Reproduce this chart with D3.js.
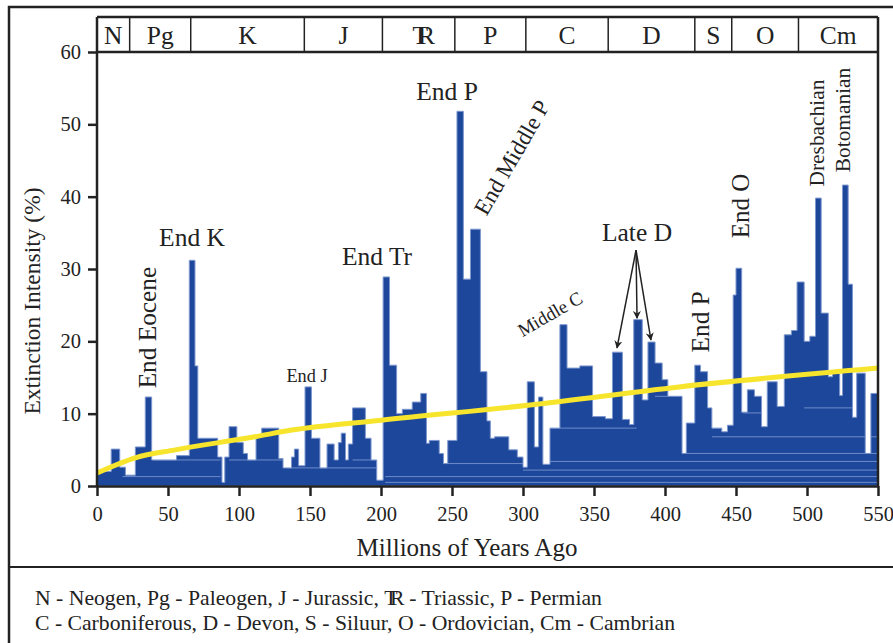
<!DOCTYPE html>
<html>
<head>
<meta charset="utf-8">
<script src="https://cdn.jsdelivr.net/npm/d3@7"></script>
<style>
  body { margin: 0; background: #fff; }
</style>
</head>
<body>
<div id="chart"></div>
<script>
// extinction intensity profile: value holds from this age until the next one
const stepAge = [0, 10, 16, 20, 27, 34, 38.5, 56, 65, 69, 71, 85, 88, 90, 93, 98.5, 103, 106, 112, 116,
  128, 131, 137, 139, 142, 146.5, 151, 157, 162, 167, 170, 172, 175, 177, 180, 189, 193, 197, 201.5, 206,
  211, 215, 222, 228, 232, 234, 241, 244, 247, 253.5, 258, 263, 270, 274.6, 277, 280, 290, 296, 300, 303,
  308, 311, 314, 319, 326, 331, 340, 349, 358, 363, 370, 375, 378, 384, 388, 393, 398, 402, 412, 415,
  421, 425, 430, 433, 440, 444, 448, 450, 454, 458, 463, 468, 472, 479, 484, 489, 493, 498, 502, 506,
  510, 515, 518, 523, 525, 529, 532, 535, 541, 545, 550];
const stepValue = [2.0, 5.1, 2.6, 1.5, 5.4, 12.3, 3.6, 4.2, 31.2, 16.6, 6.6, 4.0, 0.5, 4.0, 8.2, 6.0, 4.5, 3.6, 6.7, 8.0,
  3.8, 2.5, 4.0, 5.1, 2.8, 13.7, 6.6, 2.5, 5.8, 3.6, 6.0, 7.3, 3.6, 5.8, 10.8, 6.6, 3.6, 0.8, 28.9, 16.7,
  10.0, 10.6, 11.6, 12.8, 5.9, 6.3, 4.5, 3.1, 6.3, 51.8, 28.6, 35.5, 15.8, 9.0, 6.6, 6.8, 5.0, 4.0, 2.6, 14.4,
  5.4, 12.3, 3.0, 8.0, 22.3, 16.3, 16.6, 9.6, 9.3, 18.5, 9.2, 8.5, 23.0, 11.9, 19.9, 17.0, 14.7, 12.4, 4.5, 8.7,
  16.7, 15.8, 10.8, 8.0, 7.5, 8.4, 26.4, 30.1, 10.2, 13.3, 12.4, 8.2, 14.4, 11.0, 20.9, 21.5, 28.2, 20.0, 20.7, 39.8,
  23.9, 15.1, 15.7, 12.5, 41.6, 27.9, 9.5, 15.6, 4.5, 12.8, 12.8];

// inner layer floors [from age, to age, value]
const layerFloors = [[18, 87, 1.3], [40, 87, 3.6], [93, 134, 3.6], [134, 197, 2.5], [180, 197, 3.6],
  [203, 550, 0.5], [203, 550, 1.3], [247, 300, 3.1], [300, 550, 2.2], [318, 550, 3.4], [322, 380, 8.0],
  [412, 550, 4.5], [433, 550, 6.8], [455, 468, 10.1], [498, 534, 10.8], [393, 412, 12.4]];

// trend line
const trendAge = [0, 27, 55, 111, 136, 200, 305, 410, 550];
const trendValue = [1.8, 3.9, 5.0, 6.8, 7.7, 9.1, 11.2, 13.7, 16.3];

const periodNames = ["N", "Pg", "K", "J", "TR", "P", "C", "D", "S", "O", "Cm"];
const periodStart = [0, 23, 66, 146, 201, 252, 302, 360, 421, 447, 494];
const periodEnd = [23, 66, 146, 201, 252, 302, 360, 421, 447, 494, 550];

const xTicks = [0, 50, 100, 150, 200, 250, 300, 350, 400, 450, 500, 550];
const yTicks = [0, 10, 20, 30, 40, 50, 60];

const notes = [
  {text: "End Eocene", age: 35.2, value: 21.9, rot: -90, size: 25.3},
  {text: "End K", age: 66.9, value: 34.3, rot: 0, size: 25.5},
  {text: "End J", age: 147.9, value: 15.2, rot: 0, size: 18.3},
  {text: "End Tr", age: 197.2, value: 31.7, rot: 0, size: 25.5},
  {text: "End P", age: 246.5, value: 54.5, rot: 0, size: 25.5},
  {text: "End Middle P", age: 292.3, value: 45.4, rot: -60, size: 23},
  {text: "Middle C", age: 319, value: 23.8, rot: -30, size: 18.7},
  {text: "Late D", age: 380.3, value: 35.0, rot: 0, size: 25.5},
  {text: "End P", age: 424.6, value: 22.7, rot: -90, size: 25.3},
  {text: "End O", age: 453.5, value: 38.7, rot: -90, size: 25},
  {text: "Dresbachian", age: 507, value: 48.8, rot: -90, size: 21.4},
  {text: "Botomanian", age: 525.4, value: 50.6, rot: -90, size: 21.4}
];
const arrowFrom = [379.6, 32.6];
const arrowTo = [[366.2, 19.1], [380.3, 23.2], [390.1, 20.2]];

const legendLines = [
  "N - Neogen, Pg - Paleogen, J - Jurassic, TR - Triassic, P - Permian",
  "C - Carboniferous, D - Devon, S - Siluur, O - Ordovician, Cm - Cambrian"
];

const FONT = "'Liberation Serif', 'DejaVu Serif', serif";
const W = 893, H = 643;
const svg = d3.select("#chart").append("svg").attr("width", W).attr("height", H)
  .attr("font-family", FONT);

const x = d3.scaleLinear().domain([0, 550]).range([97, 878]);
const y = d3.scaleLinear().domain([0, 60]).range([486, 52]);

// outer frame
svg.append("rect").attr("x", 9).attr("y", 7).attr("width", 900).attr("height", 700)
  .attr("fill", "none").attr("stroke", "#222").attr("stroke-width", 2.5);
svg.append("line").attr("x1", 9).attr("x2", W).attr("y1", 567).attr("y2", 567)
  .attr("stroke", "#222").attr("stroke-width", 2);

const blue = "#1d479b";
const pts = stepAge.map((a, i) => [a, stepValue[i]]);
const area = d3.area().curve(d3.curveStepAfter)
  .x(d => x(d[0])).y0(y(0)).y1(d => y(d[1]));

svg.append("clipPath").attr("id", "clipArea").append("path").attr("d", area(pts));

svg.append("path").attr("d", area(pts))
  .attr("fill", blue).attr("stroke", "#7d97cf").attr("stroke-width", 1)
  .attr("stroke-linejoin", "round");

svg.append("g").attr("clip-path", "url(#clipArea)")
  .selectAll("line").data(layerFloors).join("line")
  .attr("x1", d => x(d[0])).attr("x2", d => x(d[1]))
  .attr("y1", d => y(d[2])).attr("y2", d => y(d[2]))
  .attr("stroke", "#6f8cc8").attr("stroke-width", 1);

// trend
const trend = d3.line().curve(d3.curveMonotoneX).x(d => x(d[0])).y(d => y(d[1]));
svg.append("path").attr("d", trend(trendAge.map((a, i) => [a, trendValue[i]])))
  .attr("fill", "none").attr("stroke", "#f6e52c").attr("stroke-width", 5);

// axes
const yAxis = svg.append("g").attr("transform", `translate(${x(0)},0)`)
  .call(d3.axisLeft(y).tickValues(yTicks).tickSize(9).tickPadding(7).tickSizeOuter(0));
const xAxis = svg.append("g").attr("transform", `translate(0,${y(0)})`)
  .call(d3.axisBottom(x).tickValues(xTicks).tickSize(10).tickPadding(10).tickSizeOuter(0));
[yAxis, xAxis].forEach(g => {
  g.attr("font-family", FONT);
  g.selectAll("path, line").attr("stroke", "#222").attr("stroke-width", 2.5);
  g.selectAll("text").attr("font-size", 20.5).attr("fill", "#222");
});
yAxis.select(".domain").attr("d", `M0,${y(60) - 35}V${y(0)}`);

// right border
svg.append("line").attr("x1", x(550)).attr("x2", x(550)).attr("y1", y(60) - 35).attr("y2", y(0))
  .attr("stroke", "#222").attr("stroke-width", 2.5);

// period band
const band = svg.append("g");
band.append("line").attr("x1", x(0)).attr("x2", x(550)).attr("y1", y(60) - 35).attr("y2", y(60) - 35)
  .attr("stroke", "#222").attr("stroke-width", 2.5);
band.append("line").attr("x1", x(0)).attr("x2", x(550)).attr("y1", y(60)).attr("y2", y(60))
  .attr("stroke", "#222").attr("stroke-width", 2.5);
band.selectAll(".sep").data(periodStart.slice(1)).join("line")
  .attr("x1", d => x(d)).attr("x2", d => x(d))
  .attr("y1", y(60) - 35).attr("y2", y(60))
  .attr("stroke", "#222").attr("stroke-width", 1.5);
band.selectAll("text").data(periodNames).join("text")
  .attr("x", (d, i) => x((periodStart[i] + periodEnd[i]) / 2))
  .attr("y", y(60) - 8)
  .attr("text-anchor", "middle").attr("font-size", 25.5).attr("fill", "#222")
  .attr("letter-spacing", d => d === "TR" ? "-0.4em" : null)
  .text(d => d);

// axis titles
svg.append("text").attr("transform", `translate(40,${(y(0) + y(60)) / 2 + 32}) rotate(-90)`)
  .attr("text-anchor", "middle").attr("font-size", 23.5).attr("fill", "#222")
  .text("Extinction Intensity (%)");
svg.append("text").attr("x", 467).attr("y", 556)
  .attr("text-anchor", "middle").attr("font-size", 25).attr("fill", "#222")
  .text("Millions of Years Ago");

// annotations
svg.selectAll(".note").data(notes).join("text")
  .attr("transform", d => `translate(${x(d.age)},${y(d.value)}) rotate(${d.rot})`)
  .attr("text-anchor", "middle").attr("dominant-baseline", "central").attr("fill", "#222")
  .attr("font-size", d => d.size).text(d => d.text);

svg.append("defs").append("marker")
  .attr("id", "arrow").attr("viewBox", "0 -5 10 10")
  .attr("refX", 9).attr("refY", 0)
  .attr("markerWidth", 8).attr("markerHeight", 8)
  .attr("markerUnits", "userSpaceOnUse").attr("orient", "auto")
  .append("path").attr("d", "M0,-5L10,0L0,5L3,0Z").attr("fill", "#222");
svg.selectAll(".arr").data(arrowTo).join("line")
  .attr("x1", x(arrowFrom[0])).attr("y1", y(arrowFrom[1]))
  .attr("x2", d => x(d[0])).attr("y2", d => y(d[1]))
  .attr("stroke", "#222").attr("stroke-width", 1.5)
  .attr("marker-end", "url(#arrow)");

// legend text
svg.selectAll(".leg").data(legendLines).join("text")
  .attr("x", 35).attr("y", (d, i) => 605 + i * 25)
  .attr("font-size", 21.7).attr("fill", "#222")
  .each(function(d) {
    const t = d3.select(this);
    const parts = d.split("TR");
    t.append("tspan").text(parts[0]);
    if (parts.length > 1) {
      t.append("tspan").attr("letter-spacing", "-0.35em").text("TR");
      t.append("tspan").attr("dx", 7).text(parts[1]);
    }
  });
</script>
</body>
</html>
